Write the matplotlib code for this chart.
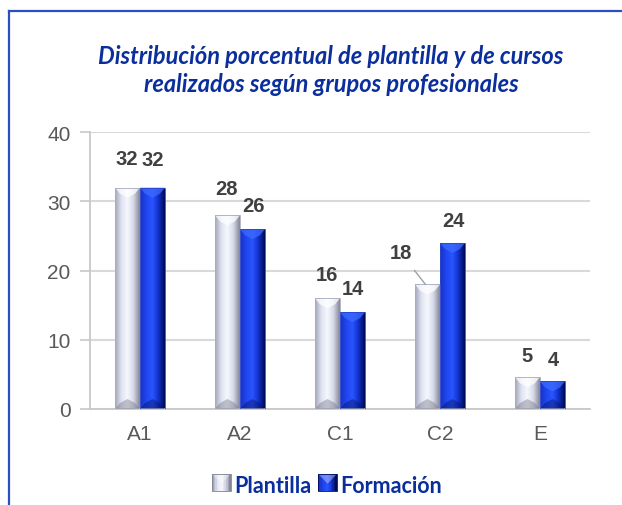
import numpy as np
import matplotlib
matplotlib.use("Agg")
import matplotlib.pyplot as plt
from matplotlib.patches import Polygon, Patch
from matplotlib.lines import Line2D
from matplotlib.legend_handler import HandlerBase
from matplotlib.colors import LinearSegmentedColormap

# ---- data ----
categories = ["A1", "A2", "C1", "C2", "E"]
plantilla = [32, 28, 16, 18, 4.6]
formacion = [32, 26, 14, 24, 4]
series_names = ["Plantilla", "Formación"]
title = "Distribución porcentual de plantilla y de cursos\nrealizados según grupos profesionales"
yticks = [0, 10, 20, 30, 40]

W, H = 622, 506
fig = plt.figure(figsize=(W / 100, H / 100), dpi=100)
fig.patch.set_facecolor("white")

# blue frame lines (top and left)
border = "#2a4fc0"
fig.add_artist(Line2D([9 / W, 1.0], [1 - 12 / H, 1 - 12 / H], color=border, lw=1.6,
                      transform=fig.transFigure))
fig.add_artist(Line2D([9 / W, 9 / W], [0, 1 - 12 / H], color=border, lw=1.6,
                      transform=fig.transFigure))

ax = fig.add_axes([90 / W, 1 - 410 / H, 500 / W, (410 - 133.3) / H])
ax.set_xlim(-0.5, len(categories) - 0.5)
ax.set_ylim(0, 40)
ax.set_yticks(yticks)
ax.set_xticks(range(len(categories)))
ax.set_xticklabels(categories)
for s in ["top", "right"]:
    ax.spines[s].set_visible(False)
ax.spines["left"].set_color("#c8c8c8")
ax.spines["bottom"].set_color("#c8c8c8")
ax.spines["left"].set_linewidth(1.3)
ax.spines["bottom"].set_linewidth(1.3)
ax.grid(axis="y", color="#d9d9d9", lw=1.5)
ax.set_axisbelow(True)
ax.tick_params(axis="y", length=7, width=1.2, color="#c8c8c8", labelcolor="#595959",
               labelsize=15, pad=7)
ax.tick_params(axis="x", length=0, labelcolor="#595959", labelsize=15, pad=11)
for lab in ax.get_xticklabels() + ax.get_yticklabels():
    lab.set_fontfamily("Liberation Sans")

bw = 0.25
x = np.arange(len(categories))

def grad_cmap(cols):
    return LinearSegmentedColormap.from_list("g", cols)

silver = grad_cmap(["#a4a7ba", "#dfe2f0", "#f7f8ff", "#d4d7e6", "#85879a"])
blue = grad_cmap(["#1a33c0", "#1f45f0", "#2a55ff", "#1030c8", "#000a55"])
grad = np.linspace(0, 1, 64).reshape(1, -1)

def draw_bars(xs, vals, cmap, top_col, bot_col, edge):
    bars = ax.bar(xs, vals, bw, color="none", edgecolor=edge, lw=0.6, zorder=3)
    for b in bars:
        x0, w, h = b.get_x(), b.get_width(), b.get_height()
        im = ax.imshow(grad, cmap=cmap, aspect="auto", extent=(x0, x0 + w, 0, h),
                       zorder=2.5, interpolation="bicubic")
        im.set_clip_path(b)
        dy = 10 / 6.92
        dy = min(dy, h / 2)
        inset = w * 0.2
        ax.add_patch(Polygon([(x0, h), (x0 + w, h), (x0 + w - inset, h - dy * 0.6),
                              (x0 + w / 2, h - dy), (x0 + inset, h - dy * 0.6)],
                             closed=True, fc=top_col, ec="none", alpha=0.75, zorder=2.8))
        ax.add_patch(Polygon([(x0, 0), (x0 + w, 0), (x0 + w - inset, dy * 0.6),
                              (x0 + w / 2, dy), (x0 + inset, dy * 0.6)],
                             closed=True, fc=bot_col, ec="none", alpha=0.4, zorder=2.8))
    ax.set_xlim(-0.5, len(categories) - 0.5)
    ax.set_ylim(0, 40)
    return bars

bp = draw_bars(x - bw / 2, plantilla, silver, "#ffffff", "#6d6f80", "#a8abbd")
bf = draw_bars(x + bw / 2, formacion, blue, "#3d6bff", "#00105e", "#2a45d0")

lab_kw = dict(ha="center", va="center", fontsize=14.5, fontweight="bold",
              color="#404040", family="Liberation Sans", zorder=5)
extra_p = [29, 27, 24, None, 22]
extra_f = [28, 24, 24, 22, 22]
for i in range(len(categories)):
    if extra_p[i] is None:
        ax.annotate(f"{plantilla[i]:.0f}", xy=(x[i] - bw / 2 - 0.02, plantilla[i]),
                    xytext=(-18, 23), textcoords="offset points",
                    arrowprops=dict(arrowstyle="-", color="#a0a0a0", lw=1,
                                    shrinkA=5, shrinkB=0), **lab_kw)
    else:
        ax.annotate(f"{plantilla[i]:.0f}", xy=(x[i] - bw / 2, plantilla[i]),
                    xytext=(-0.5, extra_p[i] * 0.72), textcoords="offset points", **lab_kw)
    ax.annotate(f"{formacion[i]:.0f}", xy=(x[i] + bw / 2, formacion[i]),
                xytext=(0.5, extra_f[i] * 0.72), textcoords="offset points", **lab_kw)

# title
fig.text(331 / W, 1 - 70.5 / H, title, ha="center", va="center", fontsize=17,
         fontweight="bold", style="italic", family="Lato", color="#0a2f9c",
         linespacing=1.22)

# legend with gradient squares
class GradHandler(HandlerBase):
    def __init__(self, cmap, edge):
        super().__init__()
        self.cmap, self.edge = cmap, edge
    def create_artists(self, legend, orig, xd, yd, width, height, fontsize, trans):
        arts = []
        n = 12
        for k in range(n):
            c = self.cmap(k / (n - 1))
            r = matplotlib.patches.Rectangle((xd + width * k / n, yd), width / n + 0.3, height,
                                             fc=c, ec="none", transform=trans)
            arts.append(r)
        tri = Polygon([(xd, yd + height), (xd + width, yd + height),
                       (xd + width / 2, yd + height * 0.45)], closed=True,
                      fc="white", alpha=0.35, ec="none", transform=trans)
        arts.append(tri)
        frame = matplotlib.patches.Rectangle((xd, yd), width, height, fc="none",
                                             ec=self.edge, lw=0.6, transform=trans)
        arts.append(frame)
        return arts

h1 = Patch(facecolor="#b8bbcb")
h2 = Patch(facecolor="#1f45e8")
leg = fig.legend([h1, h2], series_names, loc="center", bbox_to_anchor=(327 / W, 1 - 487 / H),
                 ncol=2, frameon=False, handlelength=0.85, handleheight=0.85,
                 handletextpad=0.15, columnspacing=0.35,
                 handler_map={h1: GradHandler(silver, "#7f8194"),
                              h2: GradHandler(blue, "#000a55")},
                 prop=dict(family="Lato", weight="bold", size=15.5))
for t in leg.get_texts():
    t.set_color("#0a2f9c")

fig.savefig("out.png", dpi=100)
